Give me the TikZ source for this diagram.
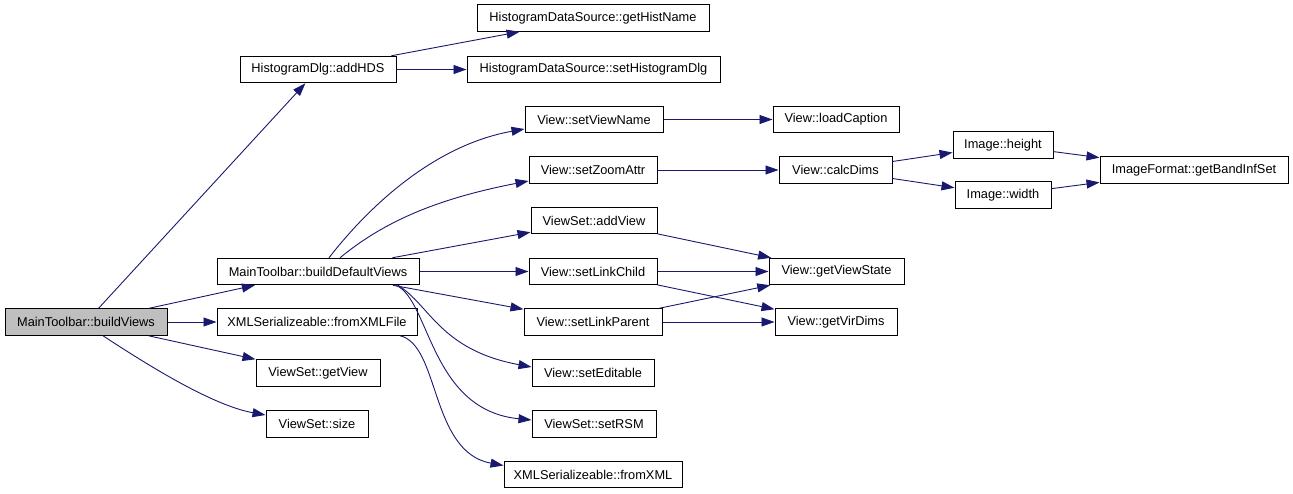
\documentclass[tikz,border=0pt]{standalone}
\usepackage{fontspec}
\setmainfont{Liberation Sans}
\usetikzlibrary{arrows.meta}
\definecolor{edgec}{HTML}{191970}
\definecolor{rootfill}{HTML}{BFBFBF}
\begin{document}
\begin{tikzpicture}[x=1pt,y=1pt,
  box/.style={draw=black, line width=1pt, fill=white, minimum height=26.5pt, inner sep=0pt, font=\fontsize{12.8}{15}\selectfont},
  root/.style={box, fill=rootfill},
  edge/.style={draw=edgec, line width=0.9pt, -{Triangle[length=13pt,width=9pt]}}]
\useasboundingbox (0,0) rectangle (1293,-493);
% nodes
\node[root, minimum width=162pt] (bv)   at (86,-322)   {MainToolbar::buildViews};
\node[box, minimum width=156pt] (addhds) at (318,-69.5) {HistogramDlg::addHDS};
\node[box, minimum width=232pt] (ghn)  at (593,-18)    {HistogramDataSource::getHistName};
\node[box, minimum width=253pt] (shd)  at (593.5,-69.5) {HistogramDataSource::setHistogramDlg};
\node[box, minimum width=202pt] (bdv)  at (318,-271.5) {MainToolbar::buildDefaultViews};
\node[box, minimum width=200pt] (fxf)  at (317,-322)   {XMLSerializeable::fromXMLFile};
\node[box, minimum width=124pt] (gv)   at (318,-373)   {ViewSet::getView};
\node[box, minimum width=102pt] (size) at (317,-424)   {ViewSet::size};
\node[box, minimum width=138pt] (svn)  at (594,-119.5) {View::setViewName};
\node[box, minimum width=126pt] (lc)   at (836,-119.5) {View::loadCaption};
\node[box, minimum width=128pt] (sza)  at (593,-170)   {View::setZoomAttr};
\node[box, minimum width=113pt] (cd)   at (835.5,-170) {View::calcDims};
\node[box, minimum width=126pt] (av)   at (594,-220.5) {ViewSet::addView};
\node[box, minimum width=128pt] (slc)  at (593,-271.5) {View::setLinkChild};
\node[box, minimum width=135pt] (gvs)  at (836.5,-271.5) {View::getViewState};
\node[box, minimum width=138pt] (slp)  at (593,-322)   {View::setLinkParent};
\node[box, minimum width=122pt] (gvd)  at (836,-322)   {View::getVirDims};
\node[box, minimum width=122pt] (se)   at (593,-373)   {View::setEditable};
\node[box, minimum width=124pt] (srsm) at (594,-424)   {ViewSet::setRSM};
\node[box, minimum width=178pt] (fx)   at (593,-474.5) {XMLSerializeable::fromXML};
\node[box, minimum width=100pt] (ih)   at (1003,-145)  {Image::height};
\node[box, minimum width=96pt]  (iw)   at (1003,-195)  {Image::width};
\node[box, minimum width=188pt] (gbis) at (1194,-170)  {ImageFormat::getBandInfSet};
% edges
\draw[edge] (bv) -- (addhds);
\draw[edge] (bv) -- (bdv);
\draw[edge] (bv) -- (fxf);
\draw[edge] (bv) -- (gv);
\draw[edge] ([xshift=17pt]bv.south) .. controls (140,-360) and (210,-405) .. ([yshift=9pt]size.west);
\draw[edge] (addhds) -- (ghn);
\draw[edge] (addhds) -- (shd);
\draw[edge] ([xshift=11pt]bdv.north) .. controls (370,-205) and (435,-145) .. ([yshift=-9.5pt]svn.west);
\draw[edge] ([xshift=22pt]bdv.north) .. controls (380,-225) and (430,-200) .. ([yshift=-11pt]sza.west);
\draw[edge] (bdv) -- (av);
\draw[edge] (bdv) -- (slc);
\draw[edge] (bdv) -- (slp);
\draw[edge] ([xshift=80pt]bdv.south) .. controls (430,-305) and (440,-350) .. ([yshift=6pt]se.west);
\draw[edge] ([xshift=78pt]bdv.south) .. controls (430,-300) and (430,-410) .. ([yshift=4pt]srsm.west);
\draw[edge] ([xshift=83pt]fxf.south) .. controls (440,-345) and (430,-452) .. ([yshift=9pt]fx.west);
\draw[edge] (svn) -- (lc);
\draw[edge] (sza) -- (cd);
\draw[edge] (cd) -- (ih);
\draw[edge] (cd) -- (iw);
\draw[edge] (ih) -- (gbis);
\draw[edge] (iw) -- (gbis);
\draw[edge] (av) -- (gvs);
\draw[edge] (slc) -- (gvs);
\draw[edge] (slc) -- (gvd);
\draw[edge] (slp) -- (gvs);
\draw[edge] (slp) -- (gvd);
\end{tikzpicture}
\end{document}
